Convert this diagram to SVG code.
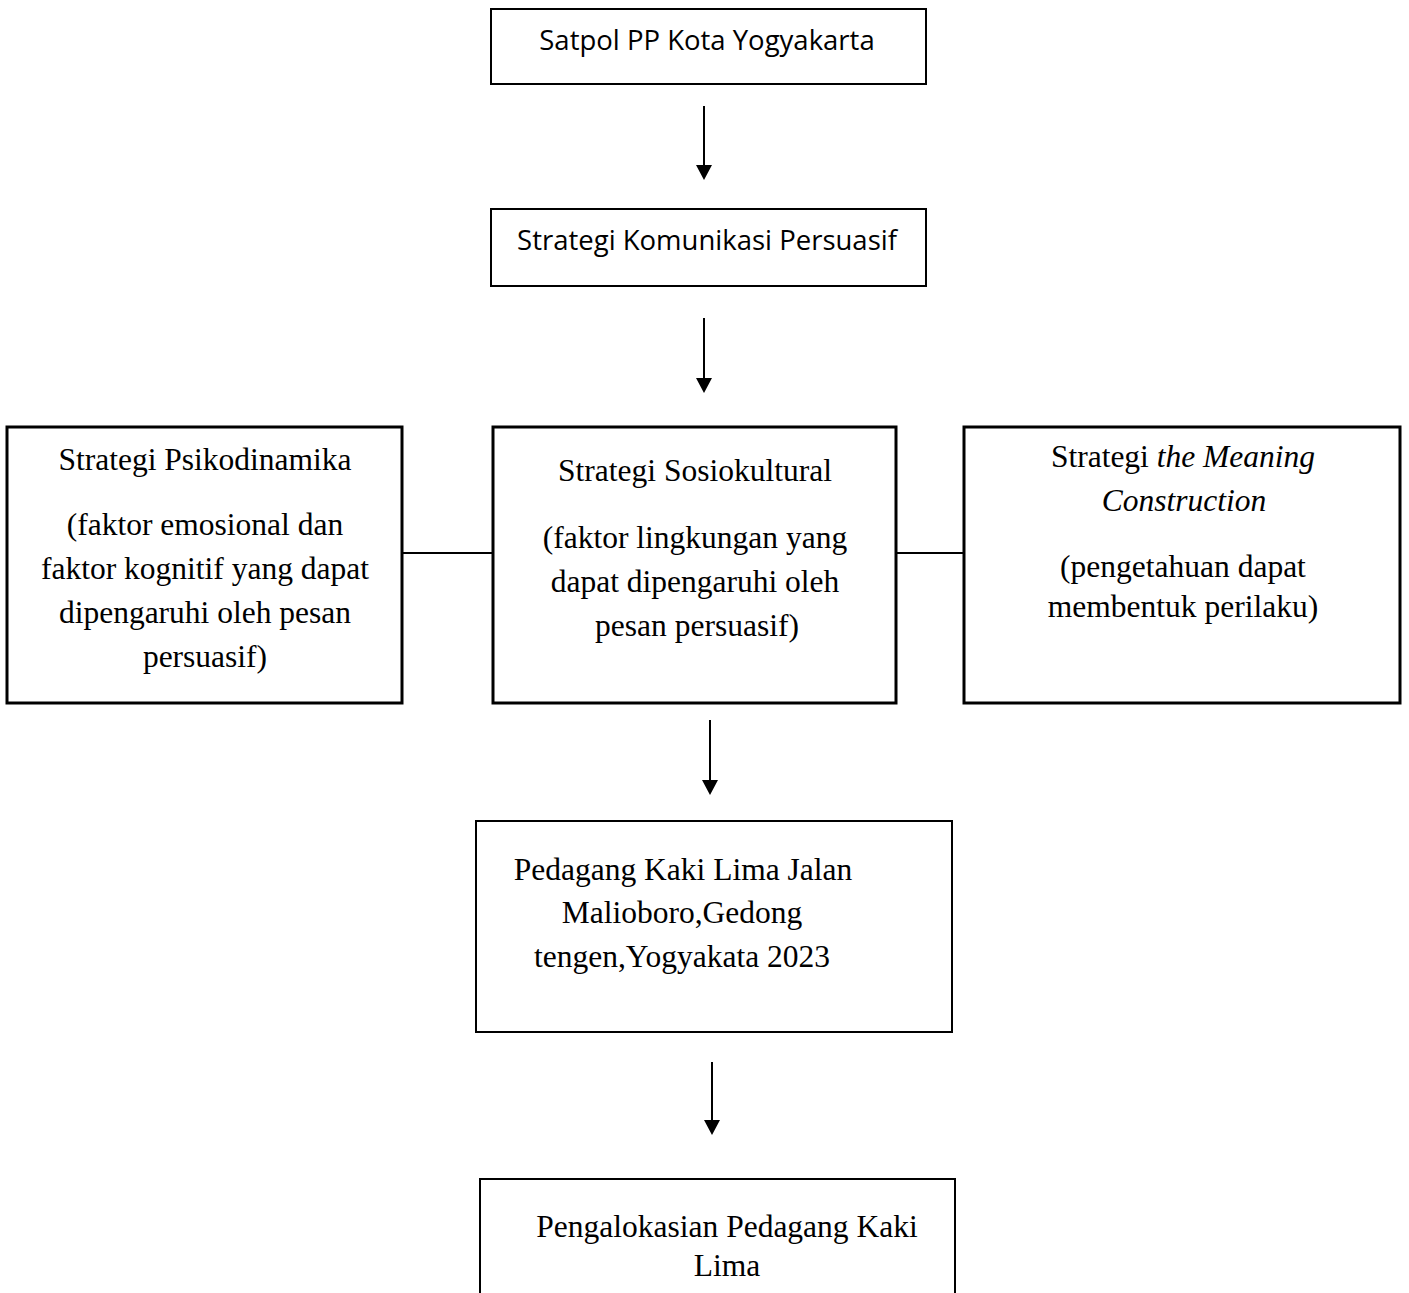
<svg xmlns="http://www.w3.org/2000/svg" width="1409" height="1293" viewBox="0 0 1409 1293">
<defs>
<style>
.box{fill:#fff;stroke:#000;stroke-width:2}
.thick{stroke-width:3}
.sans{font-family:"Open Sans","Liberation Sans",sans-serif;font-size:27.5px;fill:#000;text-anchor:middle}
.serif{font-family:"Liberation Serif","Times New Roman",serif;font-size:31.5px;fill:#000;text-anchor:middle}
.conn{stroke:#000;stroke-width:2;fill:none}
</style>
<marker id="ah" viewBox="0 0 15 16" refX="5" refY="8" markerWidth="15" markerHeight="16" markerUnits="userSpaceOnUse" orient="auto">
<path d="M0,0 L15,8 L0,16 z" fill="#000"/>
</marker>
</defs>
<rect width="1409" height="1293" fill="#fff"/>
<g id="connectors">
<line class="conn" x1="704" y1="106" x2="704" y2="170" marker-end="url(#ah)"/>
<line class="conn" x1="704" y1="318" x2="704" y2="383" marker-end="url(#ah)"/>
<line class="conn" x1="402" y1="553" x2="493" y2="553"/>
<line class="conn" x1="896" y1="553" x2="964" y2="553"/>
<line class="conn" x1="710" y1="720" x2="710" y2="785" marker-end="url(#ah)"/>
<line class="conn" x1="712" y1="1062" x2="712" y2="1125" marker-end="url(#ah)"/>
</g>
<g id="satpol">
<rect class="box" x="491" y="9" width="435" height="75"/>
<text class="sans" x="707" y="50">Satpol PP Kota Yogyakarta</text>
</g>
<g id="strategi-komunikasi">
<rect class="box" x="491" y="209" width="435" height="77"/>
<text class="sans" x="707" y="250">Strategi Komunikasi Persuasif</text>
</g>
<g id="psikodinamika">
<rect class="box thick" x="7" y="427" width="395" height="276"/>
<text class="serif" x="205" y="470">Strategi Psikodinamika</text>
<text class="serif" x="205" y="535">(faktor emosional dan</text>
<text class="serif" x="205" y="579">faktor kognitif yang dapat</text>
<text class="serif" x="205" y="623">dipengaruhi oleh pesan</text>
<text class="serif" x="205" y="667">persuasif)</text>
</g>
<g id="sosiokultural">
<rect class="box thick" x="493" y="427" width="403" height="276"/>
<text class="serif" x="695" y="481">Strategi Sosiokultural</text>
<text class="serif" x="695" y="548">(faktor lingkungan yang</text>
<text class="serif" x="695" y="592">dapat dipengaruhi oleh</text>
<text class="serif" x="697" y="636">pesan persuasif)</text>
</g>
<g id="meaning-construction">
<rect class="box thick" x="964" y="427" width="436" height="276"/>
<text class="serif" x="1183" y="467">Strategi <tspan font-style="italic">the Meaning</tspan></text>
<text class="serif" x="1184" y="511" font-style="italic">Construction</text>
<text class="serif" x="1183" y="577">(pengetahuan dapat</text>
<text class="serif" x="1183" y="617">membentuk perilaku)</text>
</g>
<g id="pedagang">
<rect class="box" x="476" y="821" width="476" height="211"/>
<text class="serif" x="683" y="880">Pedagang Kaki Lima Jalan</text>
<text class="serif" x="682" y="923">Malioboro,Gedong</text>
<text class="serif" x="682" y="967">tengen,Yogyakata 2023</text>
</g>
<g id="pengalokasian">
<rect class="box" x="480" y="1179" width="475" height="130"/>
<text class="serif" x="727" y="1237">Pengalokasian Pedagang Kaki</text>
<text class="serif" x="727" y="1276">Lima</text>
</g>
</svg>
